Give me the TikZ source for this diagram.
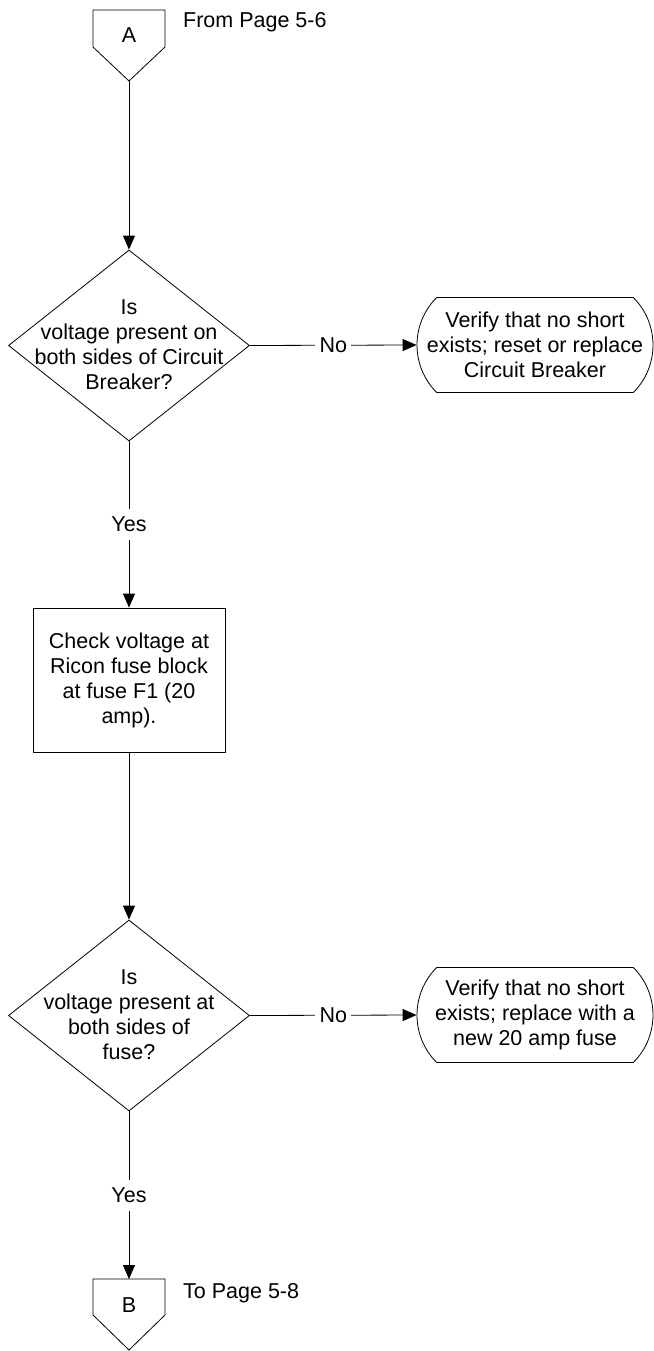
\documentclass[tikz,border=0pt]{standalone}
\usepackage{fontspec}
\setmainfont{Liberation Sans}
\usetikzlibrary{arrows.meta,shapes.geometric,shapes.misc,calc}
\begin{document}
\begin{tikzpicture}[x=1pt,y=-1pt,
  every node/.style={font=\fontsize{21.5}{25}\selectfont},
  txt/.style={align=center, inner sep=0pt},
  decision/.style={diamond, draw, line width=0.8pt, minimum width=241pt, minimum height=191pt, inner sep=0pt},
  process/.style={rectangle, draw, line width=0.8pt, minimum width=192pt, minimum height=144pt, inner sep=0pt},
  terminal/.style={rounded rectangle, rounded rectangle arc length=90, draw, line width=0.8pt, minimum width=236pt, minimum height=95pt, inner sep=0pt, align=center},
  offpage/.style={rectangle, minimum width=72pt, minimum height=71pt, inner sep=0pt, outer sep=0pt},
  flow/.style={draw, line width=0.8pt, -{Triangle[length=14pt,width=12pt]}},
  edgelabel/.style={fill=white, inner xsep=4.5pt, inner ysep=8pt},
]
\useasboundingbox (0,0) rectangle (653,1351);

% off-page connector A
\node[offpage] (A) at (129,45.5) {};
\draw[line width=0.8pt] (A.north west) -- (A.north east) -- ($(A.north east)+(0,37)$)
  -- (A.south) -- ($(A.north west)+(0,37)$) -- cycle;
\node[txt] (Atext) at (129,35) {A};
\node[txt, anchor=base west] (from) at (183,28) {From Page 5-6};

% first decision
\node[decision] (d1) at (129,345.5) {};
\node[txt] (d1text) at (129,345) {Is\\voltage present on\\both sides of Circuit\\Breaker?};
\node[terminal] (t1) at (535,345) {Verify that no short\\exists; reset or replace\\Circuit Breaker};

% check step
\node[process] (r1) at (129,680) {};
\node[txt] (r1text) at (129,680) {Check voltage at\\Ricon fuse block\\at fuse F1 (20\\amp).};

% second decision
\node[decision] (d2) at (129,1015.5) {};
\node[txt] (d2text) at (129,1015) {Is\\voltage present at\\both sides of\\fuse?};
\node[terminal] (t2) at (535,1015) {Verify that no short\\exists; replace with a\\new 20 amp fuse};

% off-page connector B
\node[offpage] (B) at (129,1314.5) {};
\draw[line width=0.8pt] (B.north west) -- (B.north east) -- ($(B.north east)+(0,36)$)
  -- (B.south) -- ($(B.north west)+(0,36)$) -- cycle;
\node[txt] (Btext) at (129,1305) {B};
\node[txt, anchor=base west] (to) at (183,1298) {To Page 5-8};

% connectors
\draw[flow] (A.south) -- (d1.north);
\draw[flow] (d1.east) -- node[edgelabel] (no1) {No} (t1.west);
\draw[flow] (d1.south) -- node[edgelabel] (yes1) {Yes} (r1.north);
\draw[flow] (r1.south) -- (d2.north);
\draw[flow] (d2.east) -- node[edgelabel] (no2) {No} (t2.west);
\draw[flow] (d2.south) -- node[edgelabel] (yes2) {Yes} (B.north);
\end{tikzpicture}
\end{document}
